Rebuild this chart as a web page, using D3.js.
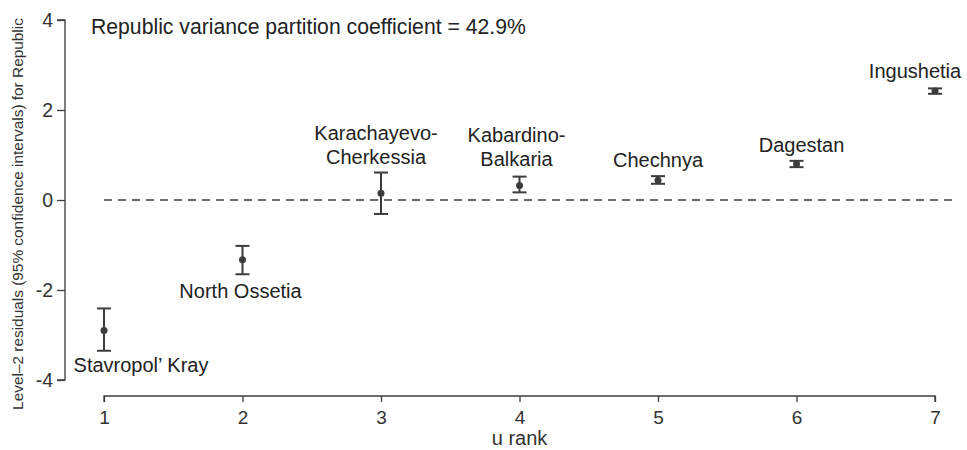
<!DOCTYPE html>
<html><head><meta charset="utf-8">
<script src="https://cdn.jsdelivr.net/npm/d3@7"></script>
<style>body{margin:0;background:#fff}svg{display:block;font-family:"Liberation Sans",Arial,sans-serif}</style>
</head><body><svg id="c" width="967" height="450"></svg>
<script>
const ranks = [1, 2, 3, 4, 5, 6, 7];
const republics = [["Stavropol’ Kray"], ["North Ossetia"], ["Karachayevo-", "Cherkessia"], ["Kabardino-", "Balkaria"], ["Chechnya"], ["Dagestan"], ["Ingushetia"]];
const residuals = [-2.90, -1.33, 0.15, 0.32, 0.44, 0.80, 2.42];
const lowerCI = [-3.35, -1.65, -0.31, 0.17, 0.36, 0.73, 2.36];
const upperCI = [-2.41, -1.02, 0.61, 0.52, 0.53, 0.87, 2.48];
const yTicks = [-4, -2, 0, 2, 4];
const xTicks = [1, 2, 3, 4, 5, 6, 7];
const vpcText = "Republic variance partition coefficient = 42.9%";

// label placement (layout only): offsets from the point / CI end
const labelPlace = [
  {side: "below", dx: 37, dy: 21},
  {side: "below", dx: -2, dy: 24},
  {side: "above", dx: -5, dy: -9},
  {side: "above", dx: -3, dy: -11},
  {side: "above", dx: 0, dy: -9},
  {side: "above", dx: 5, dy: -9},
  {side: "above", dx: -20, dy: -10}
];

const svg = d3.select("#c");
const ink = "#3c3c3c";
const x = d3.scaleLinear().domain([1, 7]).range([104, 935]);
const y = d3.scaleLinear().domain([-4, 4]).range([380, 20]);
const fmt = d => String(d);

// y axis
const ya = svg.append("g").attr("transform", "translate(65,0)")
  .call(d3.axisLeft(y).tickValues(yTicks).tickSize(8).tickPadding(4).tickFormat(fmt));
ya.select(".domain").attr("d", `M-8,${y(4)}H0V${y(-4)}H-8`).attr("stroke", ink).attr("stroke-width", 1.3);
ya.selectAll(".tick line").attr("stroke", ink).attr("stroke-width", 1.3);
ya.selectAll(".tick text").attr("font-size", 19.5).attr("fill", "#333").attr("font-family", "Liberation Sans, Arial, sans-serif");

// x axis
const xa = svg.append("g").attr("transform", "translate(0,396)")
  .call(d3.axisBottom(x).tickValues(xTicks).tickSize(6).tickPadding(9).tickFormat(fmt));
xa.select(".domain").attr("d", `M${x(1)},6V0H${x(7)}V6`).attr("stroke", ink).attr("stroke-width", 1.3);
xa.selectAll(".tick line").attr("stroke", ink).attr("stroke-width", 1.3);
xa.selectAll(".tick text").attr("font-size", 19).attr("fill", "#333").attr("font-family", "Liberation Sans, Arial, sans-serif");

svg.append("text").attr("x", (x(1) + x(7)) / 2).attr("y", 445).attr("text-anchor", "middle")
  .attr("font-size", 20).attr("fill", "#333").text("u rank");

svg.append("text").attr("transform", "translate(23,214) rotate(-90)").attr("text-anchor", "middle")
  .attr("font-size", 15.4).attr("fill", "#333").text("Level–2 residuals (95% confidence intervals) for Republic");

svg.append("text").attr("x", 91).attr("y", 34).attr("font-size", 21.2).attr("fill", "#222").text(vpcText);

// zero reference
svg.append("line").attr("x1", x(1)).attr("x2", x(7) + 22).attr("y1", y(0)).attr("y2", y(0))
  .attr("stroke", ink).attr("stroke-width", 1.6).attr("stroke-dasharray", "8,6");

const g = svg.append("g");
ranks.forEach((r, i) => {
  const cx = x(r);
  g.append("line").attr("x1", cx).attr("x2", cx).attr("y1", y(lowerCI[i])).attr("y2", y(upperCI[i]))
    .attr("stroke", ink).attr("stroke-width", 2);
  [lowerCI[i], upperCI[i]].forEach(v => g.append("line").attr("x1", cx - 7).attr("x2", cx + 7)
    .attr("y1", y(v)).attr("y2", y(v)).attr("stroke", ink).attr("stroke-width", 2));
  g.append("circle").attr("cx", cx).attr("cy", y(residuals[i])).attr("r", 3.5).attr("fill", ink);

  const p = labelPlace[i];
  const lines = republics[i];
  const base = p.side === "above" ? y(upperCI[i]) + p.dy - (lines.length - 1) * 24 : y(lowerCI[i]) + p.dy;
  const t = g.append("text").attr("text-anchor", "middle").attr("font-size", 20).attr("fill", "#222");
  lines.forEach((s, k) => t.append("tspan").attr("x", cx + p.dx).attr("y", base + k * 24).text(s));
});
</script></body></html>
